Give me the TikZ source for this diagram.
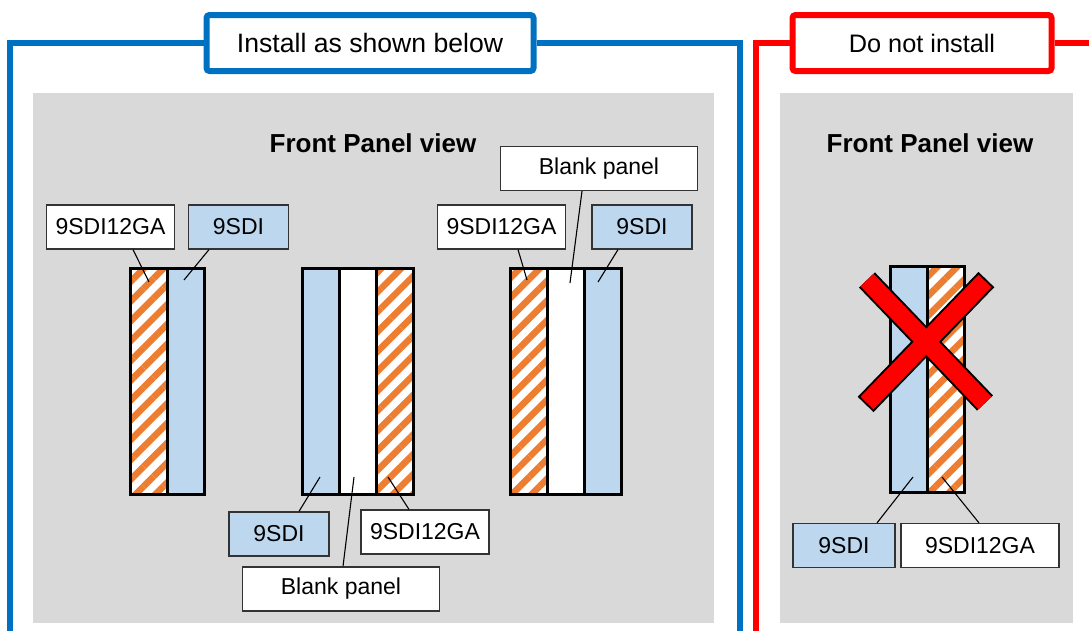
\documentclass[tikz,border=0pt]{standalone}
\usepackage{fontspec}
\setmainfont{Liberation Sans}
\usetikzlibrary{positioning,patterns.meta}
\definecolor{frameblue}{HTML}{0070C0}
\definecolor{panelgray}{HTML}{D9D9D9}
\definecolor{slotblue}{HTML}{BDD7EE}
\definecolor{hatchorange}{HTML}{ED7D31}

\begin{document}
\begin{tikzpicture}
  [x=1pt,y=-1pt,
  slot/.style={draw,line width=3pt,minimum width=37pt,minimum height=226pt,inner sep=0pt,outer sep=0pt},
  sdi/.style={slot,fill=slotblue},
  blank/.style={slot,fill=white},
  ga/.style={slot,preaction={fill=white},pattern={Lines[angle=45,distance=14pt,line width=6.5pt]},pattern color=hatchorange},
  tag/.style={draw=black!80,line width=1.2pt,fill=white,minimum height=44pt,inner sep=0pt,font=\fontsize{23}{27}\selectfont},
  sditag/.style={tag,fill=slotblue,minimum width=100pt},
  gatag/.style={tag,minimum width=128pt},
  blanktag/.style={tag,minimum width=197pt},
  leader/.style={line width=1.1pt},
  heading/.style={font=\fontsize{26}{30}\selectfont\bfseries},
  headbox/.style={line width=6pt,fill=white,rounded corners=3pt,minimum height=56pt,inner sep=0pt}]
  \useasboundingbox (0,0) rectangle (1089,630);

  % grey panels
  \fill[panelgray] (33,93) rectangle (714,623);
  \fill[panelgray] (780,93) rectangle (1073,623);

  % frames with their title boxes
  \node[headbox,draw=frameblue,minimum width=327pt,font=\fontsize{26.6}{30}\selectfont] (install) at (370,43) {Install as shown below};
  \node[headbox,draw=red,minimum width=259pt,font=\fontsize{25.3}{30}\selectfont] (noinstall) at (922,43) {Do not install};
  \draw[frameblue,line width=6pt] (install.west) -| (10,640);
  \draw[frameblue,line width=6pt] (install.east) -| (740,640);
  \draw[red,line width=6pt] (noinstall.west) -| (756,640);
  \draw[red,line width=6pt] (noinstall.east) -- (1100,43);

  \node[heading] (viewok) at (373,143) {Front Panel view};
  \node[heading] (viewbad) at (930,143) {Front Panel view};

  % first arrangement
  \node[ga] (ga1) at (148.5,381) {};
  \node[sdi,right=0pt of ga1] (sdi1) {};
  \node[gatag] (ga1tag) at (110.5,227) {9SDI12GA};
  \node[sditag] (sdi1tag) at (238.5,227) {9SDI};
  \coordinate (ga1pt) at (149,282);
  \coordinate (sdi1pt) at (184,280);
  \draw[leader] ([xshift=22.5pt]ga1tag.south) -- (ga1pt);
  \draw[leader] ([xshift=-29.5pt]sdi1tag.south) -- (sdi1pt);

  % second arrangement
  \node[sdi] (sdi2) at (320.5,381) {};
  \node[blank,right=0pt of sdi2] (blank2) {};
  \node[ga,right=0pt of blank2] (ga2) {};
  \node[sditag] (sdi2tag) at (279,534) {9SDI};
  \node[gatag] (ga2tag) at (425,532) {9SDI12GA};
  \node[blanktag] (blank2tag) at (341,589) {Blank panel};
  \coordinate (sdi2pt) at (320,477);
  \coordinate (ga2pt) at (388,477);
  \coordinate (blank2pt) at (354,477);
  \draw[leader] ([xshift=20pt]sdi2tag.north) -- (sdi2pt);
  \draw[leader] ([xshift=-16pt]ga2tag.north) -- (ga2pt);
  \draw[leader] ([xshift=2pt]blank2tag.north) -- (blank2pt);

  % third arrangement
  \node[ga] (ga3) at (528.5,381) {};
  \node[blank,right=0pt of ga3] (blank3) {};
  \node[sdi,right=0pt of blank3] (sdi3) {};
  \node[gatag] (ga3tag) at (501.5,227) {9SDI12GA};
  \node[blanktag] (blank3tag) at (599,168.5) {Blank panel};
  \node[sditag] (sdi3tag) at (642,227) {9SDI};
  \coordinate (ga3pt) at (527,280);
  \coordinate (blank3pt) at (570,283);
  \coordinate (sdi3pt) at (598,282);
  \draw[leader] ([xshift=16.5pt]ga3tag.south) -- (ga3pt);
  \draw[leader] ([xshift=-17pt]blank3tag.south) -- (blank3pt);
  \draw[leader] ([xshift=-24pt]sdi3tag.south) -- (sdi3pt);

  % wrong arrangement
  \node[sdi] (sdi4) at (908.5,379.5) {};
  \node[ga,right=0pt of sdi4] (ga4) {};
  \node[sditag,minimum width=102pt] (sdi4tag) at (844,545.5) {9SDI};
  \node[gatag,minimum width=158pt] (ga4tag) at (980,545.5) {9SDI12GA};
  \coordinate (sdi4pt) at (913,477);
  \coordinate (ga4pt) at (942,477);
  \draw[leader] ([xshift=33pt]sdi4tag.north) -- (sdi4pt);
  \draw[leader] ([xshift=-1pt]ga4tag.north) -- (ga4pt);

  % the red cross
  \coordinate (xa) at (867,280);
  \coordinate (xb) at (985,403);
  \coordinate (xc) at (985,281);
  \coordinate (xd) at (867,403);
  \draw[line width=22pt,shorten <=-2pt,shorten >=-2pt] (xa) -- (xb) (xc) -- (xd);
  \draw[red,line width=18pt] (xa) -- (xb) (xc) -- (xd);
\end{tikzpicture}
\end{document}
